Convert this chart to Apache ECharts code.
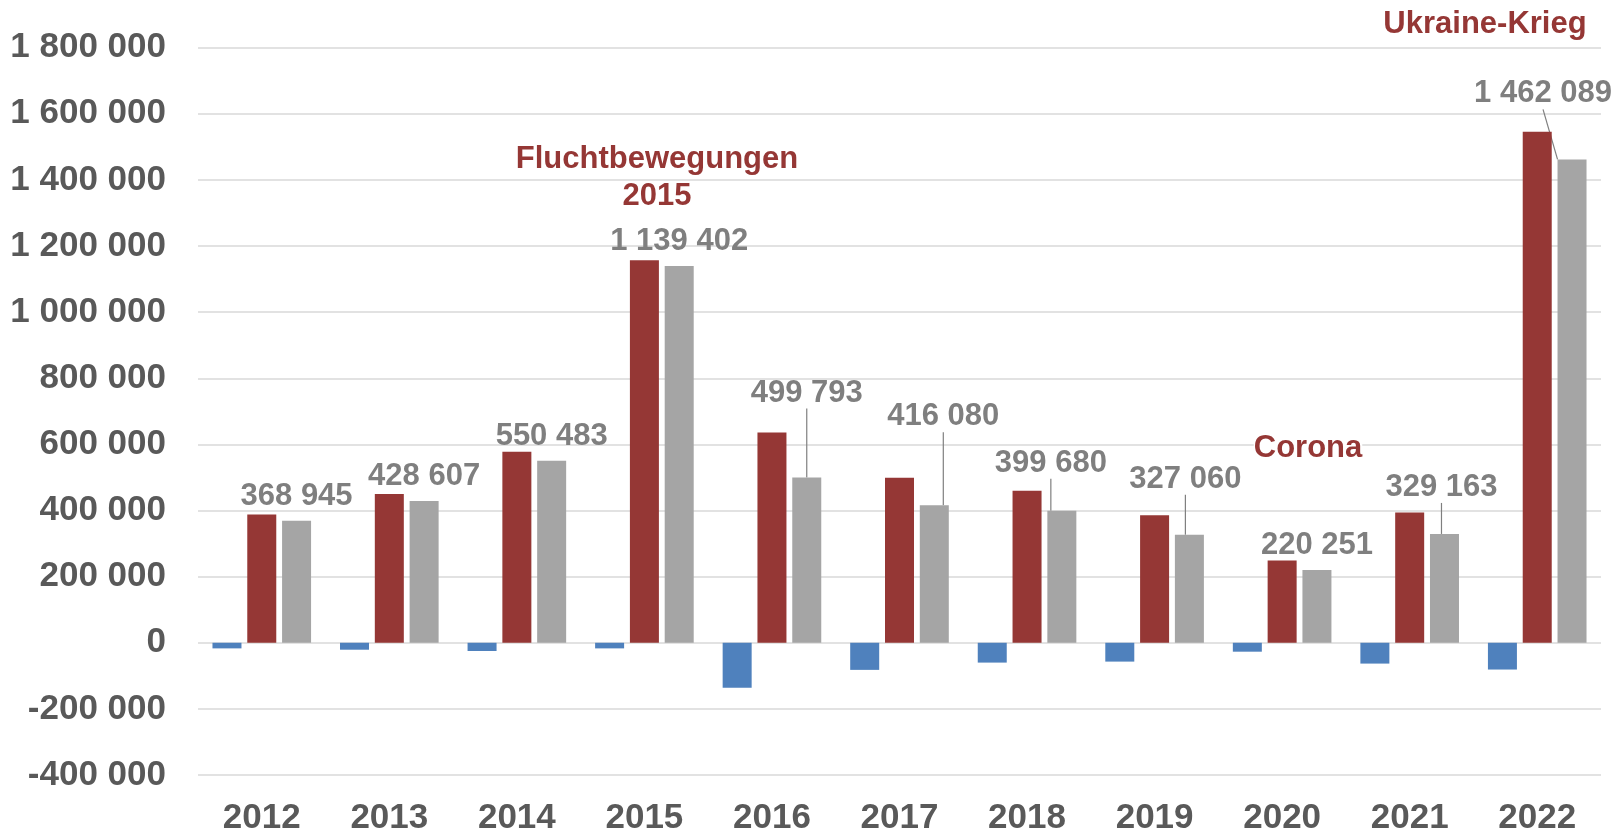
<!DOCTYPE html>
<html>
<head>
<meta charset="utf-8">
<script src="https://cdn.jsdelivr.net/npm/echarts@6/dist/echarts.min.js"></script>
<style>
  html, body { margin: 0; padding: 0; background: #fff; }
  #chart { width: 1624px; height: 836px; }
</style>
</head>
<body>
<div id="chart"></div>
<script>
  // Jahre
  const years = ['2012', '2013', '2014', '2015', '2016', '2017', '2018', '2019', '2020', '2021', '2022'];
  // blaue Balken (negativ)
  const blueValues = [-17000, -21000, -25000, -17000, -136000, -82000, -60000, -57000, -27000, -63000, -81000];
  // rote Balken
  const redValues = [388000, 450000, 578000, 1157000, 636000, 499000, 460000, 386000, 249000, 394000, 1546000];
  // graue Balken mit Beschriftung
  const greyValues = [368945, 428607, 550483, 1139402, 499793, 416080, 399680, 327060, 220251, 329163, 1462089];
  // y-Achse
  const yMin = -400000, yMax = 1800000, yStep = 200000;

  // Verschiebung der Beschriftungen (dx, dy) und Führungslinie ja/nein
  const labelShift = [[0, 0], [0, 0], [0, 0], [0, 0], [0, -60], [9, -64], [-11, -23], [-4, -31], [0, 0], [-3, -22], [-29, -41]];
  const withLeader = [false, false, false, false, true, true, true, true, false, true, true];

  const font = 'Liberation Sans, Arial, sans-serif';
  const fmt = v => String(v).replace(/\B(?=(\d{3})+(?!\d))/g, ' ');

  const chart = echarts.init(document.getElementById('chart'));
  chart.setOption({
    animation: false,
    grid: { left: 198, right: 23, top: 47.7, bottom: 58.3 },
    xAxis: {
      type: 'category',
      data: years,
      axisLine: { show: false, onZero: false },
      axisTick: { show: false },
      axisLabel: { color: '#595959', fontSize: 35, fontWeight: 'bold', fontFamily: font, margin: 26 }
    },
    yAxis: {
      type: 'value',
      min: yMin, max: yMax, interval: yStep,
      axisLine: { show: false },
      axisTick: { show: false },
      splitLine: { lineStyle: { color: '#d9d9d9', width: 1.5 } },
      axisLabel: {
        color: '#595959', fontSize: 35, fontWeight: 'bold', fontFamily: font, margin: 32,
        formatter: fmt
      }
    },
    series: [
      {
        name: 'blau', type: 'bar', data: blueValues, barWidth: 29, barGap: '20%',
        itemStyle: { color: '#4f81bd' }
      },
      {
        name: 'rot', type: 'bar', data: redValues, barWidth: 29, barGap: '20%',
        itemStyle: { color: '#953735' }
      },
      {
        name: 'grau', type: 'bar', barWidth: 29, barGap: '20%',
        data: greyValues.map((v, i) => ({ value: v, labelLine: { show: withLeader[i] } })),
        itemStyle: { color: '#a5a5a5' },
        label: {
          show: true, position: 'top', distance: 9,
          color: '#7f7f7f', fontSize: 31, fontWeight: 'bold', fontFamily: font,
          formatter: p => fmt(p.value)
        },
        labelLine: { lineStyle: { color: '#7f7f7f', width: 1.2 } },
        labelLayout: p => ({ dx: labelShift[p.dataIndex][0], dy: labelShift[p.dataIndex][1] })
      }
    ],
    graphic: [
      {
        type: 'text', x: 657, y: 141, z: 100,
        style: { text: 'Fluchtbewegungen\n2015', font: 'bold 31px ' + font, fill: '#953735', textAlign: 'center', lineHeight: 37 }
      },
      {
        type: 'text', x: 1308, y: 433, z: 100,
        style: { text: 'Corona', font: 'bold 31px ' + font, fill: '#953735', textAlign: 'center', backgroundColor: '#fff' }
      },
      {
        type: 'text', x: 1485, y: 9, z: 100,
        style: { text: 'Ukraine-Krieg', font: 'bold 31px ' + font, fill: '#953735', textAlign: 'center' }
      }
    ]
  });
</script>
</body>
</html>
